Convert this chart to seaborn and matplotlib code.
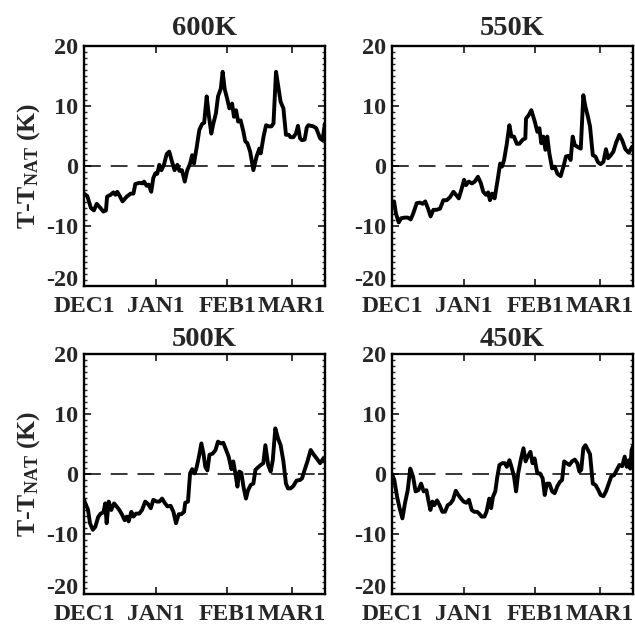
import numpy as np
import pandas as pd
import matplotlib
matplotlib.use("Agg")
import matplotlib.pyplot as plt
from matplotlib.ticker import MultipleLocator
import seaborn as sns

# ---- data (day since Dec 1, T - T_NAT in K) ----
days_600 = [0, 1.4, 3, 4.3, 5.5, 6.9, 8.4, 9.5, 10, 11.5, 12.7, 13.6, 14.4, 15.6, 16.7, 18.5, 20.2, 21.4,
            22.2, 24, 25.4, 26, 27.1, 28, 29.1, 30, 30.9, 31.7, 32.6, 33.5, 34.6, 35.8, 36.9, 38.1, 39.2,
            40.4, 41.3, 42.4, 43.6, 44.7, 45.9, 46.8, 47.6, 48.8, 49.9, 51.1, 52, 53.1, 54, 55.1, 56, 57.1,
            58, 59.2, 60, 60.9, 62.1, 62.9, 64.1, 64.9, 65.8, 66.7, 67.8, 69, 69.8, 70.7, 71.9, 73.3, 74.7,
            75.9, 76.5, 77.7, 78.8, 80, 81.1, 82, 83.1, 84.3, 85.1, 86.3, 87.4, 88.6, 89.4, 90.6, 91.7, 92.6,
            93.5, 94.3, 95.5, 96.4, 97.1, 99.3, 100.5, 102.2, 103.2, 104.3]
vals_600 = [-4.6, -5.0, -7.0, -7.4, -6.3, -6.9, -7.6, -7.4, -5.1, -4.8, -4.4, -4.8, -4.3, -5.1, -5.9, -5.1,
            -4.6, -4.6, -3.0, -2.8, -2.9, -2.6, -3.3, -3.1, -4.3, -2.0, -1.2, -1.3, 0.2, -0.7, 0.2, 2.0, 2.4,
            0.7, -0.7, 0.2, -0.8, -0.7, -2.6, -0.7, 0.4, 1.8, 0.4, 3.2, 6.0, 7.0, 7.2, 11.6, 8.5, 5.4, 7.1,
            8.8, 11.6, 12.9, 15.7, 12.8, 11.0, 9.6, 10.4, 8.2, 9.3, 7.4, 7.6, 5.7, 4.1, 3.8, 2.4, -0.7, 1.6,
            2.9, 2.1, 4.9, 6.8, 6.6, 6.6, 7.1, 15.7, 12.7, 10.7, 9.6, 5.2, 5.2, 4.8, 4.8, 5.4, 6.7, 4.6, 4.3,
            4.4, 6.4, 6.8, 6.6, 6.3, 4.6, 4.3, 7.1]

days_550 = [0, 0.9, 1.7, 2.9, 4, 5.5, 6.9, 8.1, 9.2, 10.7, 12.1, 13.3, 14.4, 15.6, 16.7, 17.9, 19.3, 20.8,
            22.2, 23.7, 25.1, 26.6, 27.7, 28.9, 30, 31.2, 32, 33.2, 34.6, 35.8, 37.2, 38.4, 39.5, 40.7, 41.6,
            42.4, 43.3, 44.4, 45.6, 46.8, 47.6, 48.5, 49.6, 50.8, 51.7, 52.8, 54, 55.1, 56.6, 57.7, 58, 59.2,
            60.3, 61.8, 62.9, 63.8, 64.6, 65.5, 66.4, 67.2, 68.1, 69.3, 70.4, 71.6, 73, 74.2, 75.3, 76.5, 77.3,
            78.2, 79.1, 80.2, 81.7, 82.8, 83.7, 84.8, 85.7, 86.9, 88, 89.2, 90.3, 91.5, 92.6, 93.5, 94.7, 95.8,
            97, 98.4, 99.6, 101, 102.5, 103.9]
vals_550 = [-6.2, -5.9, -7.9, -9.4, -8.7, -8.6, -8.6, -8.9, -7.9, -6.2, -6.1, -6.3, -5.9, -7.1, -8.4, -7.3,
            -7.3, -7.1, -5.7, -5.7, -5.2, -4.3, -4.8, -5.4, -4.0, -2.3, -3.2, -2.6, -2.9, -2.6, -1.8, -2.8,
            -4.3, -4.8, -4.4, -5.7, -4.6, -5.4, -2.6, 0.4, -0.1, 1.0, 3.5, 6.8, 4.9, 4.9, 3.7, 3.7, 4.4, 4.6,
            7.9, 8.5, 9.3, 7.4, 5.7, 6.3, 3.8, 4.9, 2.7, 4.9, 2.1, -0.4, -0.1, -1.3, -1.7, -0.1, 1.6, 1.7, 1.0,
            4.9, 3.5, 3.2, 2.9, 11.8, 9.9, 8.2, 6.6, 1.8, 1.6, 0.6, 0.3, 0.7, 2.8, 1.3, 1.8, 2.4, 3.9, 5.2,
            4.3, 2.8, 2.2, 3.2]

days_500 = [0, 0.9, 1.7, 2.6, 3.8, 4.9, 6.1, 7.2, 8.4, 9.2, 9.8, 10.7, 11.8, 13, 14.1, 15.3, 16.5, 17.6,
            18.5, 19.3, 20.5, 21.4, 22.5, 23.9, 25.1, 26.5, 27.7, 28.9, 30, 31.5, 32.6, 33.8, 34.9, 36.1,
            37.5, 38.7, 39.8, 41, 42.1, 43.3, 43.8, 45, 45.9, 46.8, 47.9, 48.8, 49.9, 50.8, 51.7, 52.5, 53.4,
            54.3, 55.7, 56.9, 58, 59.2, 60.3, 61.5, 62.6, 63.8, 64.6, 65.5, 66.4, 67.2, 68.1, 69, 70.1, 71,
            72.2, 73.3, 74.2, 75.3, 76.5, 77.6, 78.5, 79.7, 80.8, 81.7, 82.8, 84, 85.1, 86.3, 87.4, 88.3,
            89.4, 90.6, 92, 93.5, 94.4, 95.5, 96.7, 98.1, 99.3, 100.7, 102.2, 103.6, 104.3]
vals_500 = [-4.3, -5.2, -5.9, -8.2, -9.3, -8.8, -7.2, -6.6, -6.4, -4.9, -8.2, -4.6, -6.0, -4.9, -5.4, -6.0,
            -6.8, -7.7, -7.1, -7.9, -6.3, -7.1, -6.6, -6.6, -6.0, -4.6, -5.0, -5.7, -4.3, -4.6, -4.6, -4.1,
            -4.8, -5.4, -5.3, -6.3, -8.2, -6.7, -6.7, -6.3, -4.8, -4.6, 0.1, 0.8, 0.1, 1.2, 3.2, 5.1, 3.4,
            1.2, 0.6, 3.2, 3.4, 4.0, 5.4, 5.1, 5.2, 4.0, 2.9, 0.8, 2.1, 0.1, -2.1, 0.4, 0.2, -2.1, -4.1,
            -2.7, -1.8, -1.6, 0.7, 1.1, 1.5, 1.8, 4.8, 1.5, 0.4, 2.3, 7.6, 5.9, 4.8, 2.1, -1.6, -2.4, -2.4,
            -2.0, -1.1, -1.0, -0.7, 0.7, 2.1, 4.0, 3.3, 2.6, 1.8, 2.6, 2.1]

days_450 = [0, 1, 2.2, 3.3, 4.5, 5.6, 6.8, 7.9, 9.1, 10.2, 11.4, 12.6, 13.7, 14.9, 15.7, 16.6, 17.5, 18.3,
            19.5, 20.6, 21.8, 22.9, 24.1, 25.3, 26.4, 27.6, 28.7, 29.9, 31, 32.2, 33.3, 34.5, 35.6, 36.8,
            37.7, 38.8, 40, 40.9, 42.1, 42.9, 43.7, 44.7, 45.6, 46.5, 47.7, 48.8, 49.7, 50.8, 51.7, 52.8,
            53.7, 54.6, 55.7, 56.9, 57.8, 58.7, 59.9, 60.8, 61.7, 62.9, 64, 65.2, 66.1, 67, 68.1, 69.3, 70.4,
            71.6, 72.7, 73.6, 74.5, 75.6, 76.8, 77.9, 79.1, 80.2, 81.1, 81.9, 82.8, 83.7, 84.8, 85.7, 86.9,
            88, 89.2, 90.3, 91.5, 92.6, 93.8, 94.9, 96.1, 97.3, 98.4, 99.6, 100.7, 101.6, 102.5, 103.1,
            103.7, 104.3]
vals_450 = [0.0, -1.0, -3.8, -5.7, -7.4, -4.9, -2.7, 0.9, -0.4, -2.9, -2.7, -1.6, -2.9, -2.7, -4.3, -6.0,
            -4.6, -5.2, -4.4, -5.2, -6.3, -6.3, -5.2, -4.9, -4.3, -2.8, -3.5, -4.1, -4.6, -4.8, -4.3, -6.0,
            -6.3, -6.3, -6.6, -7.1, -7.1, -6.3, -4.1, -5.7, -3.8, -2.9, -0.4, 1.5, 1.8, 1.8, 1.2, 2.3, 1.2,
            -0.4, -2.9, 0.1, 2.3, 4.3, 2.1, 2.9, 3.7, 1.8, 2.6, 0.1, 0.1, -0.7, -3.5, -1.6, -1.6, -2.9,
            -3.2, -2.0, -1.3, -1.0, 2.1, 1.8, 1.5, 2.1, 2.4, 1.8, 0.4, 0.7, 4.3, 4.8, 4.0, 3.3, -1.6, -1.8,
            -2.6, -3.5, -3.7, -2.9, -1.6, -0.4, -0.2, 0.7, 1.5, 1.3, 2.9, 1.2, 2.3, 0.9, 4.0, 4.6]

titles = ["600K", "550K", "500K", "450K"]
tick_days = [0, 31, 62, 90]
tick_labels = ["DEC1", "JAN1", "FEB1", "MAR1"]
y_ticks = [-20, -10, 0, 10, 20]
y_tick_labels = ["-20", "-10", "0", "10", "20"]
ylabel = r"T-T$_{\mathrm{NAT}}$ (K)"

series = [(days_600, vals_600), (days_550, vals_550), (days_500, vals_500), (days_450, vals_450)]

sns.set_style("ticks")
plt.rcParams["font.family"] = ["Liberation Serif", "DejaVu Serif"]
plt.rcParams["font.weight"] = "bold"
plt.rcParams["mathtext.fontset"] = "custom"
plt.rcParams["mathtext.rm"] = "Liberation Serif:bold"
plt.rcParams["mathtext.bf"] = "Liberation Serif:bold"
plt.rcParams["mathtext.it"] = "Liberation Serif:bold"

fig = plt.figure(figsize=(6.35, 6.25), dpi=100)
W, H = 635.0, 625.0
boxes = [(84, 46), (392, 46), (84, 354), (392, 354)]  # left, top in px
aw, ah = 241, 240

axes = []
for i, ((lx, ty), (d, v), title) in enumerate(zip(boxes, series, titles)):
    ax = fig.add_axes([lx / W, 1 - (ty + ah) / H, aw / W, ah / H])
    axes.append(ax)
    df = pd.DataFrame({"day": d, "val": v})
    ax.axhline(0, color="black", lw=1.1, dashes=(11, 6.5), zorder=1)
    sns.lineplot(data=df, x="day", y="val", ax=ax, color="black", lw=2.8, estimator=None,
                 sort=False, zorder=3)
    ax.set_xlim(0, 104.3)
    ax.set_ylim(-20, 20)
    ax.set_xticks(tick_days)
    ax.set_xticklabels(tick_labels)
    ax.set_yticks(y_ticks)
    ax.set_yticklabels(y_tick_labels)
    ax.yaxis.set_minor_locator(MultipleLocator(1))
    ax.tick_params(axis="both", which="major", direction="in", length=5, width=1.3,
                   top=True, right=True, labelsize=17.5)
    ax.tick_params(axis="x", which="major", labelsize=17, pad=7)
    ax.tick_params(axis="y", which="minor", direction="in", length=2.2, width=1.0,
                   left=True, right=True)
    ax.tick_params(axis="y", which="major", pad=4)
    for lab in ax.get_xticklabels() + ax.get_yticklabels():
        lab.set_fontweight("bold")
    for s in ax.spines.values():
        s.set_linewidth(1.7)
        s.set_color("black")
    ax.set_xlabel("")
    if i % 2 == 0:
        ax.set_ylabel(ylabel, fontsize=18.5, fontweight="bold", labelpad=3)
    else:
        ax.set_ylabel("")
    ax.set_title(title, fontsize=20.5, fontweight="bold", pad=8 if i < 2 else 6)

# nudge end labels inward like the original (bottom label sits above its tick)
for ax in axes:
    labs = ax.get_yticklabels()
    labs[0].set_verticalalignment("baseline")

fig.savefig("out.png", dpi=100)
